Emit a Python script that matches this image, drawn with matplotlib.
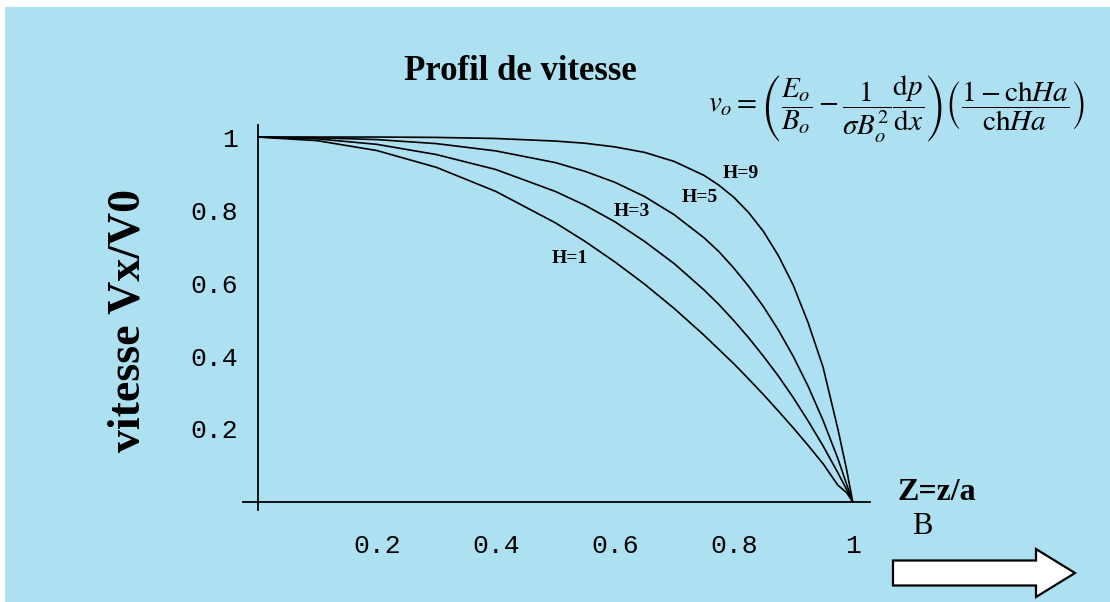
import matplotlib
matplotlib.use("Agg")
import matplotlib.pyplot as plt
from matplotlib.patches import FancyArrow, Rectangle

# Values
z = [0.0, 0.1, 0.2, 0.3, 0.4, 0.5, 0.55, 0.6, 0.65, 0.7, 0.75, 0.775, 0.8, 0.825, 0.85,
     0.875, 0.9, 0.925, 0.95, 0.975, 0.99, 1.0]
v_h1 = [1.0, 0.99, 0.963, 0.917, 0.851, 0.765, 0.714, 0.658, 0.597, 0.53, 0.457, 0.418,
        0.379, 0.337, 0.294, 0.249, 0.203, 0.155, 0.105, 0.046, 0.025, 0.0]
v_h3 = [1.0, 0.995, 0.98, 0.952, 0.911, 0.851, 0.813, 0.768, 0.714, 0.653, 0.581, 0.541,
        0.497, 0.45, 0.399, 0.345, 0.286, 0.222, 0.154, 0.08, 0.033, 0.0]
v_h5 = [1.0, 0.998, 0.993, 0.982, 0.962, 0.93, 0.906, 0.876, 0.837, 0.787, 0.724, 0.686,
        0.641, 0.591, 0.535, 0.471, 0.399, 0.317, 0.224, 0.119, 0.047, 0.0]
v_h9 = [1.0, 1.0, 1.0, 0.999, 0.996, 0.989, 0.983, 0.973, 0.958, 0.933, 0.895, 0.868,
        0.835, 0.793, 0.741, 0.675, 0.594, 0.491, 0.37, 0.2, 0.086, 0.0]

curve_labels = ["H=1", "H=3", "H=5", "H=9"]
label_pos = [(0.524, 0.668), (0.629, 0.795), (0.743, 0.834), (0.812, 0.901)]

x_ticks = [0.2, 0.4, 0.6, 0.8, 1]
x_ticklabels = ["0.2", "0.4", "0.6", "0.8", "1"]
y_ticks = [0.2, 0.4, 0.6, 0.8, 1]
y_ticklabels = ["0.2", "0.4", "0.6", "0.8", "1"]

bg = "#ADE0F0"
W, H = 1110, 602

fig = plt.figure(figsize=(W / 100, H / 100), dpi=100, facecolor="white")
fig.add_artist(Rectangle((5 / W, 0), 1, 1 - 7 / H, transform=fig.transFigure,
                         facecolor=bg, edgecolor="none", zorder=-10))

ax = fig.add_axes([243 / W, 1 - 510 / H, (870 - 243) / W, (510 - 125) / H])
ax.set_facecolor("none")
ax.set_xlim(-0.025, 1.029)
ax.set_ylim(-0.022, 1.033)

for v in (v_h1, v_h3, v_h5, v_h9):
    ax.plot(z, v, color="black", lw=1.2)

for txt, (px, py) in zip(curve_labels, label_pos):
    ax.text(px, py, txt, fontsize=14, fontweight="bold", family="Liberation Serif",
            ha="center", va="center")

ax.spines["left"].set_position(("data", 0))
ax.spines["bottom"].set_position(("data", 0))
ax.spines["top"].set_visible(False)
ax.spines["right"].set_visible(False)
ax.spines["left"].set_linewidth(1.3)
ax.spines["bottom"].set_linewidth(1.3)

ax.set_xticks(x_ticks)
ax.set_xticklabels(x_ticklabels)
ax.set_yticks(y_ticks)
ax.set_yticklabels(y_ticklabels)
ax.tick_params(axis="x", length=0, pad=23, labelsize=19)
ax.tick_params(axis="y", length=0, pad=14, labelsize=19)
for lab in ax.get_xticklabels() + ax.get_yticklabels():
    lab.set_family("Liberation Mono")

# texts around the plot
fig.text(520 / W, 1 - 72 / H, "Profil de vitesse", fontsize=25, fontweight="bold",
         family="Liberation Serif", ha="center", va="center")
fig.text(128 / W, 1 - 320 / H, "vitesse Vx/V0", fontsize=33, fontweight="bold",
         family="Liberation Serif", ha="center", va="center", rotation=90)
fig.text(937 / W, 1 - 493 / H, "Z=z/a", fontsize=23, fontweight="bold",
         family="Liberation Serif", ha="center", va="center")
fig.text(922 / W, 1 - 527 / H, "B", fontsize=22, family="Liberation Serif",
         ha="center", va="center")

plt.rcParams["mathtext.fontset"] = "stix"
formula = (r"$v_o = \left(\dfrac{E_o}{B_o} - \dfrac{1}{\sigma B_o^2}\dfrac{\mathrm{d}p}{\mathrm{d}x}\right)"
           r"\left(\dfrac{1-\mathrm{ch}Ha}{\mathrm{ch}Ha}\right)$")
fig.text(897 / W, 1 - 108 / H, formula, fontsize=21, ha="center", va="center")

# magnetic field arrow
arrow = FancyArrow(8.93, 0.29, 1.82, 0, width=0.25, head_width=0.48, head_length=0.39,
                   length_includes_head=True, facecolor="white", edgecolor="black",
                   lw=1.6, transform=fig.dpi_scale_trans)
fig.add_artist(arrow)

fig.savefig("out.png", dpi=100, facecolor=fig.get_facecolor())
